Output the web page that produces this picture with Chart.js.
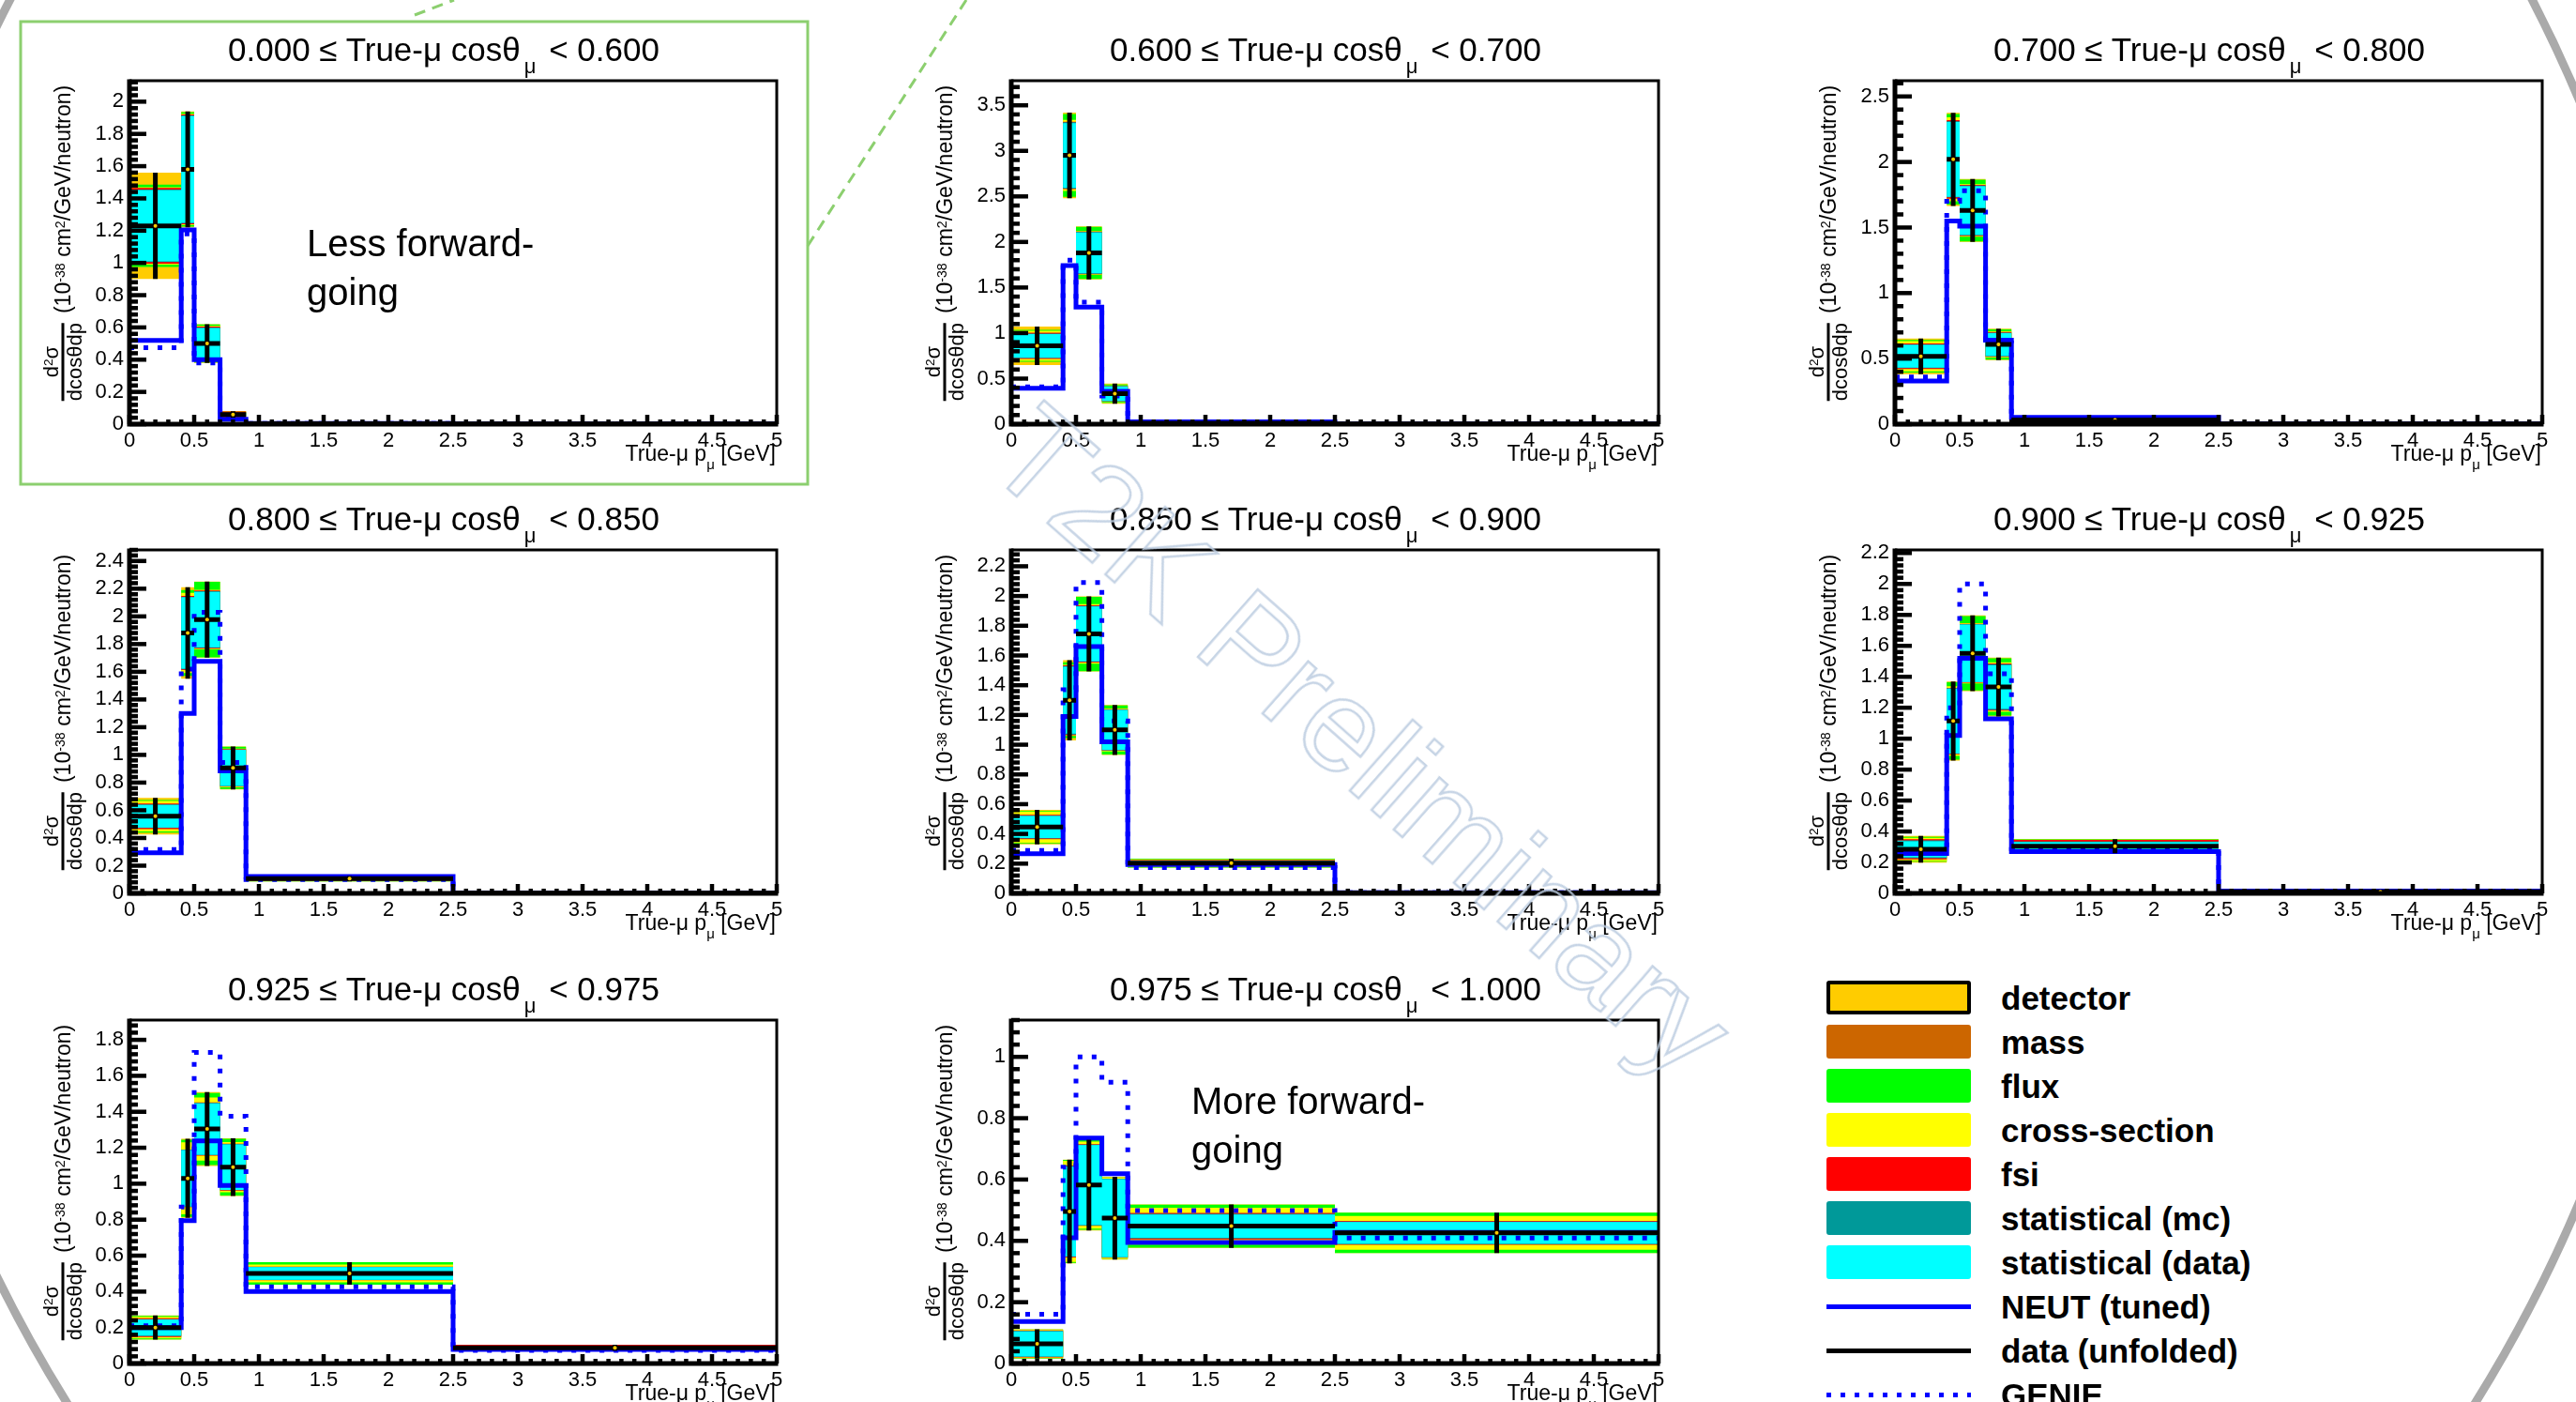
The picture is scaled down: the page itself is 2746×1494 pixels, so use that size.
<!DOCTYPE html>
<html>
<head>
<meta charset="utf-8">
<script src="https://cdn.jsdelivr.net/npm/chart.js@4.4.0/dist/chart.umd.min.js"></script>
<style>
  html, body { margin: 0; padding: 0; background: #fff; }
  body {
    width: 2746px; height: 1494px; overflow: hidden; position: relative;
    font-family: "Liberation Sans", Arial, Helvetica, sans-serif; color: #000;
  }
  #deco { position: absolute; left: 0; top: 0; z-index: 0; }
  canvas { position: absolute; z-index: 1; }
  .txt { position: absolute; white-space: nowrap; z-index: 2; }
  .title { font-size: 35px; line-height: 35px; transform: translateX(-50%); }
  .title .sub { font-size: 22px; position: relative; top: 13px; margin-left: 4px; margin-right: 4px; }
  .xlab { font-size: 23px; line-height: 23px; transform: translateX(-100%); }
  .xlab .sub { font-size: 15px; position: relative; top: 9px; }
  .ylab {
    display: flex; align-items: center; font-size: 23px;
    transform: translate(-50%, -50%) rotate(-90deg);
  }
  .frac { display: inline-flex; flex-direction: column; font-size: 22px; line-height: 22px; margin-right: 10px; }
  .frac span { text-align: center; }
  .frac .num { border-bottom: 3px solid #000; }
  .ylab sup { font-size: 0.62em; position: relative; top: -0.45em; vertical-align: 0; line-height: 0; }
  .note { font-size: 40px; line-height: 52px; }
  .leg-box { position: absolute; box-sizing: border-box; border-radius: 3px; z-index: 2; }
  .leg-line { position: absolute; z-index: 2; }
  .leg-text { position: absolute; font-size: 35px; line-height: 35px; font-weight: bold; white-space: nowrap; z-index: 2; }
  .wm {
    position: absolute; z-index: 3; white-space: nowrap;
    font-size: 140px; line-height: 140px; color: transparent;
    -webkit-text-stroke: 2.5px rgba(188, 204, 224, 0.85);
    transform: translate(-50%, -50%) rotate(41.5deg);
  }
</style>
</head>
<body>
<svg id="deco" width="2746" height="1494">
  <circle cx="1355" cy="694" r="1513" fill="none" stroke="#aaaaaa" stroke-width="9"/>
  <rect x="22" y="23" width="839" height="493" fill="none" stroke="#8ccf6f" stroke-width="3"/>
  <line x1="442" y1="16" x2="484" y2="0" stroke="#8ccf6f" stroke-width="3" stroke-dasharray="12 8"/>
  <line x1="861" y1="262" x2="1030" y2="0" stroke="#8ccf6f" stroke-width="3" stroke-dasharray="12 8"/>
</svg>
<div id="root"></div>
<script>
const FONT = '"Liberation Sans", Arial, Helvetica, sans-serif';

// momentum bins (GeV), shared by every cos(theta) slice
const binEdges = [0, 0.4, 0.5, 0.7, 0.9, 2.5, 5];

const cosLow = ["0.000", "0.600", "0.700", "0.800", "0.850", "0.900", "0.925", "0.975"];
const cosHigh = ["0.600", "0.700", "0.800", "0.850", "0.900", "0.925", "0.975", "1.000"];

const yMax = [2.13, 3.77, 2.62, 2.48, 2.31, 2.22, 1.91, 1.12];
const yStep = [0.2, 0.5, 0.5, 0.2, 0.2, 0.2, 0.2, 0.2];
const xStep = 0.5;

// unfolded data, one row per slice
const dataValues = [
  [1.23, 1.58, 0.50, 0.06, 0.003, 0.001],
  [0.86, 2.95, 1.88, 0.335, 0.01, 0.002],
  [0.518, 2.02, 1.63, 0.608, 0.032, 0.002],
  [0.557, 1.88, 1.977, 0.906, 0.106, 0.002],
  [0.446, 1.299, 1.745, 1.099, 0.204, 0.003],
  [0.285, 1.114, 1.552, 1.334, 0.305, 0.01],
  [0.2, 1.03, 1.304, 1.092, 0.501, 0.087],
  [0.064, 0.496, 0.582, 0.474, 0.448, 0.426]
];

// cumulative half-widths of the error boxes (inner to outer)
const errStatData = [
  [0.22, 0.33, 0.095, 0.01, 0.001, 0.0005],
  [0.13, 0.355, 0.225, 0.08, 0.003, 0.001],
  [0.087, 0.285, 0.185, 0.087, 0.004, 0.001],
  [0.082, 0.258, 0.2, 0.13, 0.01, 0.001],
  [0.074, 0.225, 0.185, 0.135, 0.015, 0.001],
  [0.052, 0.21, 0.186, 0.14, 0.025, 0.002],
  [0.045, 0.157, 0.143, 0.126, 0.035, 0.01],
  [0.041, 0.147, 0.13, 0.127, 0.038, 0.035]
];
const errStatMC = [
  [0.225, 0.335, 0.1, 0.011, 0.001, 0.0005],
  [0.135, 0.365, 0.23, 0.082, 0.003, 0.001],
  [0.09, 0.29, 0.19, 0.09, 0.004, 0.001],
  [0.085, 0.262, 0.205, 0.132, 0.012, 0.001],
  [0.077, 0.23, 0.188, 0.137, 0.017, 0.001],
  [0.058, 0.212, 0.188, 0.148, 0.03, 0.002],
  [0.047, 0.158, 0.145, 0.128, 0.036, 0.012],
  [0.042, 0.148, 0.132, 0.128, 0.04, 0.037]
];
const errFsi = [
  [0.235, 0.34, 0.105, 0.018, 0.001, 0.0005],
  [0.145, 0.37, 0.235, 0.085, 0.004, 0.001],
  [0.098, 0.30, 0.195, 0.095, 0.005, 0.001],
  [0.092, 0.268, 0.21, 0.135, 0.015, 0.001],
  [0.082, 0.235, 0.192, 0.14, 0.02, 0.001],
  [0.065, 0.215, 0.19, 0.152, 0.04, 0.002],
  [0.052, 0.16, 0.148, 0.13, 0.038, 0.017],
  [0.044, 0.15, 0.133, 0.129, 0.043, 0.039]
];
const errXsec = [
  [0.24, 0.345, 0.11, 0.018, 0.001, 0.0005],
  [0.165, 0.39, 0.24, 0.09, 0.004, 0.001],
  [0.115, 0.32, 0.2, 0.1, 0.005, 0.001],
  [0.11, 0.29, 0.215, 0.14, 0.016, 0.001],
  [0.105, 0.24, 0.2, 0.145, 0.025, 0.001],
  [0.075, 0.225, 0.195, 0.16, 0.042, 0.002],
  [0.06, 0.2, 0.175, 0.14, 0.05, 0.017],
  [0.046, 0.165, 0.142, 0.132, 0.06, 0.055]
];
const errFlux = [
  [0.255, 0.355, 0.118, 0.018, 0.002, 0.0005],
  [0.175, 0.455, 0.285, 0.1, 0.005, 0.001],
  [0.125, 0.345, 0.235, 0.115, 0.006, 0.001],
  [0.118, 0.31, 0.272, 0.152, 0.02, 0.001],
  [0.11, 0.255, 0.25, 0.165, 0.03, 0.001],
  [0.08, 0.25, 0.24, 0.185, 0.045, 0.002],
  [0.065, 0.215, 0.2, 0.158, 0.062, 0.017],
  [0.047, 0.168, 0.146, 0.133, 0.07, 0.066]
];
const errDetector = [
  [0.33, 0.36, 0.12, 0.02, 0.002, 0.0005],
  [0.21, 0.47, 0.29, 0.11, 0.005, 0.001],
  [0.136, 0.355, 0.24, 0.12, 0.006, 0.001],
  [0.132, 0.33, 0.275, 0.155, 0.02, 0.001],
  [0.116, 0.27, 0.253, 0.168, 0.03, 0.001],
  [0.087, 0.255, 0.245, 0.19, 0.046, 0.002],
  [0.067, 0.22, 0.205, 0.161, 0.063, 0.017],
  [0.048, 0.169, 0.148, 0.135, 0.071, 0.066]
];

const neutValues = [
  [0.52, 1.205, 0.40, 0.03, 0.004, 0.001],
  [0.395, 1.74, 1.285, 0.36, 0.025, 0.003],
  [0.33, 1.55, 1.51, 0.64, 0.052, 0.003],
  [0.293, 1.30, 1.675, 0.885, 0.122, 0.003],
  [0.267, 1.19, 1.66, 1.02, 0.194, 0.004],
  [0.258, 1.02, 1.52, 1.128, 0.27, 0.015],
  [0.2, 0.795, 1.238, 0.99, 0.40, 0.078],
  [0.137, 0.41, 0.735, 0.619, 0.395, 0.428]
];
const genieValues = [
  [0.475, 1.18, 0.38, 0.04, 0.004, 0.001],
  [0.41, 1.80, 1.34, 0.31, 0.02, 0.003],
  [0.36, 1.70, 1.78, 0.62, 0.04, 0.003],
  [0.316, 1.62, 2.03, 0.945, 0.10, 0.003],
  [0.288, 1.37, 2.09, 1.16, 0.173, 0.004],
  [0.27, 1.20, 2.0, 1.42, 0.29, 0.012],
  [0.21, 0.87, 1.73, 1.375, 0.426, 0.073],
  [0.161, 0.64, 1.0, 0.917, 0.499, 0.409]
];

const colors = {
  detector: "#ffcc00",
  mass: "#cc6600",
  flux: "#00ff00",
  xsec: "#ffff00",
  fsi: "#ff0000",
  statMC: "#009999",
  statData: "#00ffff",
  neut: "#0000ff",
  data: "#000000"
};

const legendEntries = [
  { label: "detector", kind: "box", color: colors.detector, edge: "#000" },
  { label: "mass", kind: "box", color: colors.mass },
  { label: "flux", kind: "box", color: colors.flux },
  { label: "cross-section", kind: "box", color: colors.xsec },
  { label: "fsi", kind: "box", color: colors.fsi },
  { label: "statistical (mc)", kind: "box", color: colors.statMC },
  { label: "statistical (data)", kind: "box", color: colors.statData },
  { label: "NEUT (tuned)", kind: "line", color: colors.neut },
  { label: "data (unfolded)", kind: "line", color: colors.data },
  { label: "GENIE", kind: "dots", color: colors.neut }
];

const notes = { 0: ["Less forward-", "going"], 7: ["More forward-", "going"] };

// page layout
const colLeft = [138, 1078, 2020];
const rowTop = [86, 586, 1087];
const PLOT_W = 690;
const PLOT_H = 366;
const PAD = { left: 60, top: 20, right: 20 };
const Y_AXIS_W = 50;
const X_AXIS_H = 40;

const root = document.getElementById("root");

function fmt(v) {
  return String(Number(Number(v).toFixed(2)));
}

function stepSeries(values) {
  const pts = values.map((v, i) => ({ x: binEdges[i], y: v }));
  pts.push({ x: binEdges[binEdges.length - 1], y: values[values.length - 1] });
  return pts;
}

function bandPair(center, err, color) {
  return [
    {
      data: stepSeries(center.map((c, i) => c + err[i])),
      stepped: true, fill: "+1", backgroundColor: color,
      borderWidth: 0, pointRadius: 0
    },
    {
      data: stepSeries(center.map((c, i) => Math.max(c - err[i], 0))),
      stepped: true, fill: false, borderWidth: 0, pointRadius: 0
    }
  ];
}

function dataBars(center) {
  const pts = [];
  center.forEach((c, i) => {
    pts.push({ x: binEdges[i], y: c }, { x: binEdges[i + 1], y: c }, { x: binEdges[i + 1], y: null });
  });
  return pts;
}

function dataErrors(center, err) {
  const pts = [];
  center.forEach((c, i) => {
    const mid = (binEdges[i] + binEdges[i + 1]) / 2;
    pts.push({ x: mid, y: c - err[i] }, { x: mid, y: c + err[i] }, { x: mid, y: null });
  });
  return pts;
}

function dataCentres(center) {
  return center.map((c, i) => ({ x: (binEdges[i] + binEdges[i + 1]) / 2, y: c }));
}

// ROOT style frame with inward major/minor ticks
const rootFrame = {
  id: "rootFrame",
  afterDatasetsDraw(chart, args, opts) {
    const { ctx, chartArea: a, scales: { x, y } } = chart;
    ctx.save();
    ctx.strokeStyle = "#000";
    ctx.lineCap = "butt";
    ctx.lineWidth = 4.5;

    const minorY = opts.yStep / 5;
    for (let k = 0; k * minorY <= y.max + 1e-9; k++) {
      const py = y.getPixelForValue(k * minorY);
      const len = k % 5 === 0 ? 18 : 9;
      ctx.beginPath();
      ctx.moveTo(a.left, py);
      ctx.lineTo(a.left + len, py);
      ctx.stroke();
    }

    const minorX = opts.xStep / 5;
    for (let k = 0; k * minorX <= x.max + 1e-9; k++) {
      const px = x.getPixelForValue(k * minorX);
      const len = k % 5 === 0 ? 10 : 5;
      ctx.beginPath();
      ctx.moveTo(px, a.bottom);
      ctx.lineTo(px, a.bottom - len);
      ctx.stroke();
    }

    ctx.lineWidth = 3;
    ctx.beginPath();
    ctx.moveTo(a.left, a.top);
    ctx.lineTo(a.right, a.top);
    ctx.lineTo(a.right, a.bottom);
    ctx.stroke();

    ctx.lineWidth = 5;
    ctx.beginPath();
    ctx.moveTo(a.left, a.top - 1.5);
    ctx.lineTo(a.left, a.bottom);
    ctx.lineTo(a.right + 1.5, a.bottom);
    ctx.stroke();
    ctx.restore();
  }
};

function addText(cls, html, left, top) {
  const el = document.createElement("div");
  el.className = "txt " + cls;
  el.innerHTML = html;
  el.style.left = left + "px";
  el.style.top = top + "px";
  root.appendChild(el);
  return el;
}

// top of a line box whose baseline should sit at y (Liberation Sans metrics)
function topForBaseline(y, fontSize, lineHeight) {
  return y - ((lineHeight - 1.117 * fontSize) / 2 + 0.905 * fontSize);
}

function drawPanel(i) {
  const col = i % 3;
  const row = Math.floor(i / 3);
  const plotLeft = colLeft[col];
  const plotTop = rowTop[row];

  const canvas = document.createElement("canvas");
  const cw = PAD.left + Y_AXIS_W + PLOT_W + PAD.right;
  const ch = PAD.top + PLOT_H + X_AXIS_H;
  canvas.width = cw;
  canvas.height = ch;
  canvas.style.width = cw + "px";
  canvas.style.height = ch + "px";
  canvas.style.left = (plotLeft - PAD.left - Y_AXIS_W) + "px";
  canvas.style.top = (plotTop - PAD.top) + "px";
  root.appendChild(canvas);

  const center = dataValues[i];
  const datasets = [
    {
      data: dataCentres(center), showLine: false,
      pointRadius: 2, pointBorderWidth: 0, pointBackgroundColor: colors.detector
    },
    {
      data: dataErrors(center, errDetector[i]), spanGaps: false,
      borderColor: colors.data, borderWidth: 5, pointRadius: 0, fill: false
    },
    {
      data: dataBars(center), spanGaps: false,
      borderColor: colors.data, borderWidth: 5, pointRadius: 0, fill: false
    },
    {
      data: stepSeries(genieValues[i]), stepped: true,
      borderColor: colors.neut, borderWidth: 5, borderDash: [5, 10], pointRadius: 0, fill: false
    },
    {
      data: stepSeries(neutValues[i]), stepped: true,
      borderColor: colors.neut, borderWidth: 5, pointRadius: 0, fill: false
    },
    ...bandPair(center, errStatData[i], colors.statData),
    ...bandPair(center, errStatMC[i], colors.statMC),
    ...bandPair(center, errFsi[i], colors.fsi),
    ...bandPair(center, errXsec[i], colors.xsec),
    ...bandPair(center, errFlux[i], colors.flux),
    ...bandPair(center, errDetector[i], colors.detector)
  ];

  const tickFont = { family: FONT, size: 22 };

  new Chart(canvas, {
    type: "line",
    data: { datasets },
    options: {
      responsive: false,
      animation: false,
      events: [],
      layout: { padding: { left: PAD.left, top: PAD.top, right: PAD.right, bottom: 0 } },
      plugins: {
        legend: { display: false },
        tooltip: { enabled: false },
        rootFrame: { yStep: yStep[i], xStep }
      },
      scales: {
        x: {
          type: "linear", min: 0, max: 5,
          grid: { display: false, drawTicks: false },
          border: { display: false },
          ticks: {
            stepSize: xStep, padding: 5, maxRotation: 0, autoSkip: false,
            color: "#000", font: tickFont, callback: fmt
          },
          afterFit: scale => { scale.height = X_AXIS_H; }
        },
        y: {
          type: "linear", min: 0, max: yMax[i],
          grid: { display: false, drawTicks: false },
          border: { display: false },
          ticks: {
            stepSize: yStep[i], includeBounds: false, padding: 6,
            color: "#000", font: tickFont, callback: fmt
          },
          afterFit: scale => { scale.width = Y_AXIS_W; }
        }
      }
    },
    plugins: [rootFrame]
  });

  // title
  addText(
    "title",
    `${cosLow[i]} ≤ True-μ cosθ<span class="sub">μ</span> &lt; ${cosHigh[i]}`,
    plotLeft + PLOT_W / 2 - 10,
    topForBaseline(plotTop - 21, 35, 35)
  );

  // x axis title
  addText(
    "xlab",
    'True-μ p<span class="sub">μ</span> [GeV]',
    plotLeft + PLOT_W - 1,
    topForBaseline(plotTop + PLOT_H + 39, 23, 23)
  );

  // y axis title
  addText(
    "ylab",
    '<span class="frac"><span class="num">d<sup>2</sup>σ</span><span class="den">dcosθdp</span></span>' +
      '<span>(10<sup>-38</sup> cm<sup>2</sup>/GeV/neutron)</span>',
    plotLeft - 71,
    plotTop + 173
  );

  if (notes[i]) {
    const dy = i === 0 ? 187 : 100;
    const dx = i === 0 ? 189 : 192;
    addText("note", notes[i].join("<br>"), plotLeft + dx, topForBaseline(plotTop + dy, 40, 52));
  }
}

function drawLegend() {
  const boxLeft = 1947;
  const boxW = 154;
  const textLeft = 2133;
  const firstCenter = 1063;
  const pitch = 47;

  legendEntries.forEach((entry, k) => {
    const cy = firstCenter + k * pitch;
    if (entry.kind === "box") {
      const box = document.createElement("div");
      box.className = "leg-box";
      box.style.left = boxLeft + "px";
      box.style.top = (cy - 18) + "px";
      box.style.width = boxW + "px";
      box.style.height = "36px";
      box.style.background = entry.color;
      box.style.border = entry.edge ? `4px solid ${entry.edge}` : `2px solid ${entry.color}`;
      root.appendChild(box);
    } else {
      const line = document.createElement("div");
      line.className = "leg-line";
      line.style.left = boxLeft + "px";
      line.style.top = (cy - 2.5) + "px";
      line.style.width = boxW + "px";
      line.style.height = "5px";
      line.style.background = entry.kind === "dots"
        ? `repeating-linear-gradient(90deg, ${entry.color} 0 5px, transparent 5px 15px)`
        : entry.color;
      root.appendChild(line);
    }
    const label = document.createElement("div");
    label.className = "leg-text";
    label.textContent = entry.label;
    label.style.left = textLeft + "px";
    label.style.top = topForBaseline(cy + 13, 35, 35) + "px";
    root.appendChild(label);
  });
}

function drawWatermark() {
  const wm = document.createElement("div");
  wm.className = "wm";
  wm.textContent = "T2K Preliminary";
  wm.style.left = "1452px";
  wm.style.top = "790px";
  root.appendChild(wm);
}

Chart.defaults.font.family = FONT;
for (let i = 0; i < dataValues.length; i++) drawPanel(i);
drawLegend();
drawWatermark();
</script>
</body>
</html>
